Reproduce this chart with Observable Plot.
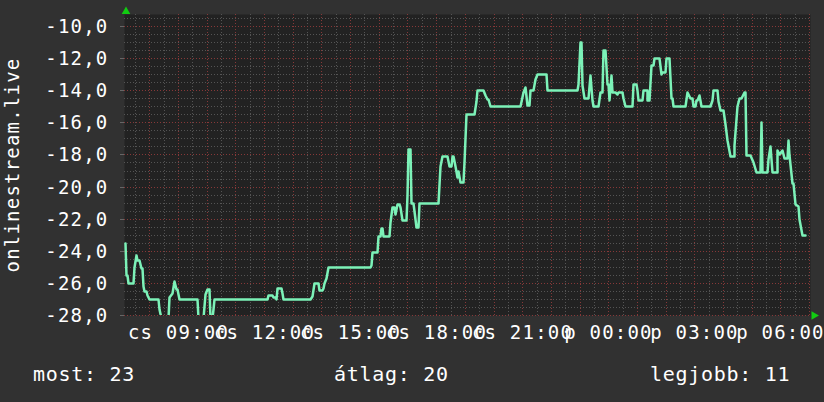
<!DOCTYPE html>
<html><head><meta charset="utf-8">
<script src="https://cdn.jsdelivr.net/npm/d3@7"></script>
<script src="https://cdn.jsdelivr.net/npm/@observablehq/plot@0.6"></script>
<style>
body{margin:0;background:#313131;width:824px;height:402px;overflow:hidden;font-family:"DejaVu Sans Mono",monospace;}
#legend{position:relative;height:52px;color:#fff;font-size:20px;letter-spacing:0.7px;line-height:20px;}
#legend span{position:absolute;top:14px;white-space:pre;}
</style></head><body><div id="chart"></div><div id="legend"></div>
<script>
// minutes after Thursday 07:00
const minutes = [9,11,13,15,26,28,32,34,38,43,45,47,49,53,55,59,78,80,84,99,101,107,112,116,118,122,160,162,172,177,181,185,187,191,193,195,306,308,317,319,323,325,327,336,338,340,396,400,405,413,415,421,423,426,430,434,522,524,526,536,539,543,545,547,549,562,564,568,572,574,578,583,585,589,597,599,601,606,608,612,614,618,622,624,664,668,673,683,687,691,693,696,700,704,706,710,717,719,723,740,744,746,758,763,767,769,773,836,842,846,850,855,857,863,867,871,890,892,955,957,961,963,966,970,978,982,986,989,999,1003,1007,1010,1014,1018,1020,1022,1026,1028,1035,1039,1041,1049,1051,1056,1070,1072,1077,1081,1083,1091,1093,1100,1102,1106,1110,1114,1116,1127,1131,1133,1139,1141,1148,1152,1154,1156,1181,1185,1190,1196,1198,1202,1204,1206,1210,1215,1233,1236,1240,1248,1250,1254,1261,1265,1269,1275,1282,1284,1290,1294,1298,1303,1307,1309,1317,1323,1330,1338,1340,1342,1353,1355,1359,1363,1372,1374,1378,1384,1388,1393,1395,1399,1405,1407,1411,1416,1420,1426,1432];
const values = [-23.5,-25.5,-25.5,-26,-26,-25,-24.25,-24.6,-24.6,-25.1,-25.1,-26.2,-26.5,-26.5,-26.75,-27,-27,-27.6,-28.2,-28.2,-26.9,-26.6,-25.9,-26.4,-26.4,-27,-27,-28.2,-28.2,-26.7,-26.4,-26.4,-28.2,-28.2,-27.6,-27,-27,-26.75,-26.75,-26.9,-26.9,-27,-26.3,-26.3,-26.6,-27,-27,-26.8,-26,-26,-26.45,-26.45,-26.3,-26,-25.67,-25,-25,-24.9,-24.1,-24.1,-23.1,-23.1,-22.6,-22.6,-23.1,-23.1,-22.2,-21.3,-21.3,-21.7,-21.1,-21.1,-21.3,-22.1,-22.1,-20.5,-17.65,-17.65,-21,-21,-21.5,-22.5,-22.5,-21,-21,-18.7,-18.1,-18.1,-18.7,-18.7,-18.1,-18.1,-18.7,-19.4,-19,-19.7,-19.7,-18.5,-15.5,-15.5,-14.7,-14,-14,-14.3,-14.56,-14.56,-15,-15,-14.1,-13.8,-14.9,-14.9,-14,-14,-13.3,-13,-13,-14,-14,-13.6,-11,-11,-13.7,-14.5,-14.5,-13.06,-14.6,-15,-15,-14.1,-14.1,-11.5,-11.5,-13.6,-13.6,-14.6,-13.06,-14.1,-14.1,-14.25,-14.1,-14.1,-14.5,-15,-15,-13.6,-13.6,-14,-14.6,-14.6,-14,-14,-14.6,-14.6,-12.4,-12.4,-12,-12,-13,-12.85,-12.85,-12,-12,-14.5,-14.5,-15,-15,-14.1,-14.5,-14.5,-15,-15,-14.6,-14.6,-14.3,-15,-15,-14.6,-14,-14,-14.7,-15.25,-15.2,-16.1,-17.1,-18.1,-18.1,-17.4,-15,-14.5,-14.5,-14.1,-14.1,-18.06,-18.06,-18.5,-19.1,-19.1,-16,-19.1,-19.1,-18.3,-17.5,-19.1,-19.1,-17.75,-18,-17.75,-18.2,-18.2,-17.1,-18.05,-19.8,-19.8,-21.1,-21.2,-22,-23,-23];
const tickMinutes = [120,300,480,660,840,1020,1200,1380];
const tickLabels = ["cs 09:00","cs 12:00","cs 15:00","cs 18:00","cs 21:00","p 00:00","p 03:00","p 06:00"];
const yTicks = [-28,-26,-24,-22,-20,-18,-16,-14,-12,-10];
const yTitle = "onlinestream.live";
const legendLabels = ["most","átlag","legjobb"];
const legendValues = [23,20,11];

const series = minutes.map((m,i)=>({m, v: values[i]}));
const xDomain = [7, 1442];
const yDomain = [-28, -9.25];
const minorX = d3.range(30, 1442, 30);
const majorX = d3.range(60, 1442, 60);
const minorY = d3.range(-28, -9.3, 0.5);

const chart = Plot.plot({
  width: 824, height: 350,
  marginLeft: 124, marginRight: 14, marginTop: 14, marginBottom: 35,
  style: {background: "transparent", color: "#fff", fontFamily: "'DejaVu Sans Mono', monospace", fontSize: "19px", letterSpacing: "1.2px", overflow: "visible"},
  x: {domain: xDomain, round: true},
  y: {domain: yDomain, round: true},
  marks: [
    Plot.frame({fill: "#222222", stroke: null}),
    Plot.ruleY(minorY, {stroke: "#545454", strokeDasharray: "1,2"}),
    Plot.ruleX(minorX, {stroke: "#545454", strokeDasharray: "1,2"}),
    Plot.ruleY(yTicks, {stroke: "#863838", strokeDasharray: "1,2"}),
    Plot.ruleX(majorX, {stroke: "#863838", strokeDasharray: "1,2"}),
    Plot.line(series, {x: "m", y: "v", stroke: "#7cf2b8", strokeWidth: 2.5, clip: true}),
    Plot.axisY({ticks: yTicks, tickFormat: d => d.toFixed(1).replace(".", ","), tickSize: 4, tickPadding: 12, label: null, stroke: "#666", fill: "#fff"}),
    Plot.axisX({ticks: tickMinutes, tickFormat: d => tickLabels[tickMinutes.indexOf(d)], tickSize: 0, tickPadding: 10, label: null, fill: "#fff"}),
    Plot.text([yTitle], {text: d => d, frameAnchor: "left", textAnchor: "middle", rotate: -90, dx: -112, fill: "#fff"}),
    Plot.dot([0], {frameAnchor: "top-left", symbol: "triangle", r: 3.2, fill: "#11cc11", stroke: null, dx: 1.5, dy: -3}),
    Plot.dot([0], {frameAnchor: "bottom-right", symbol: "triangle", r: 3.2, fill: "#11cc11", stroke: null, rotate: 90, dx: 3.5})
  ]
});
document.getElementById("chart").appendChild(chart);

const lefts = [33, 334, 650];
const lg = document.getElementById("legend");
legendLabels.forEach((l, i) => {
  const s = document.createElement("span");
  s.textContent = `${l}: ${legendValues[i]}`;
  s.style.left = lefts[i] + "px";
  lg.appendChild(s);
});
</script></body></html>
